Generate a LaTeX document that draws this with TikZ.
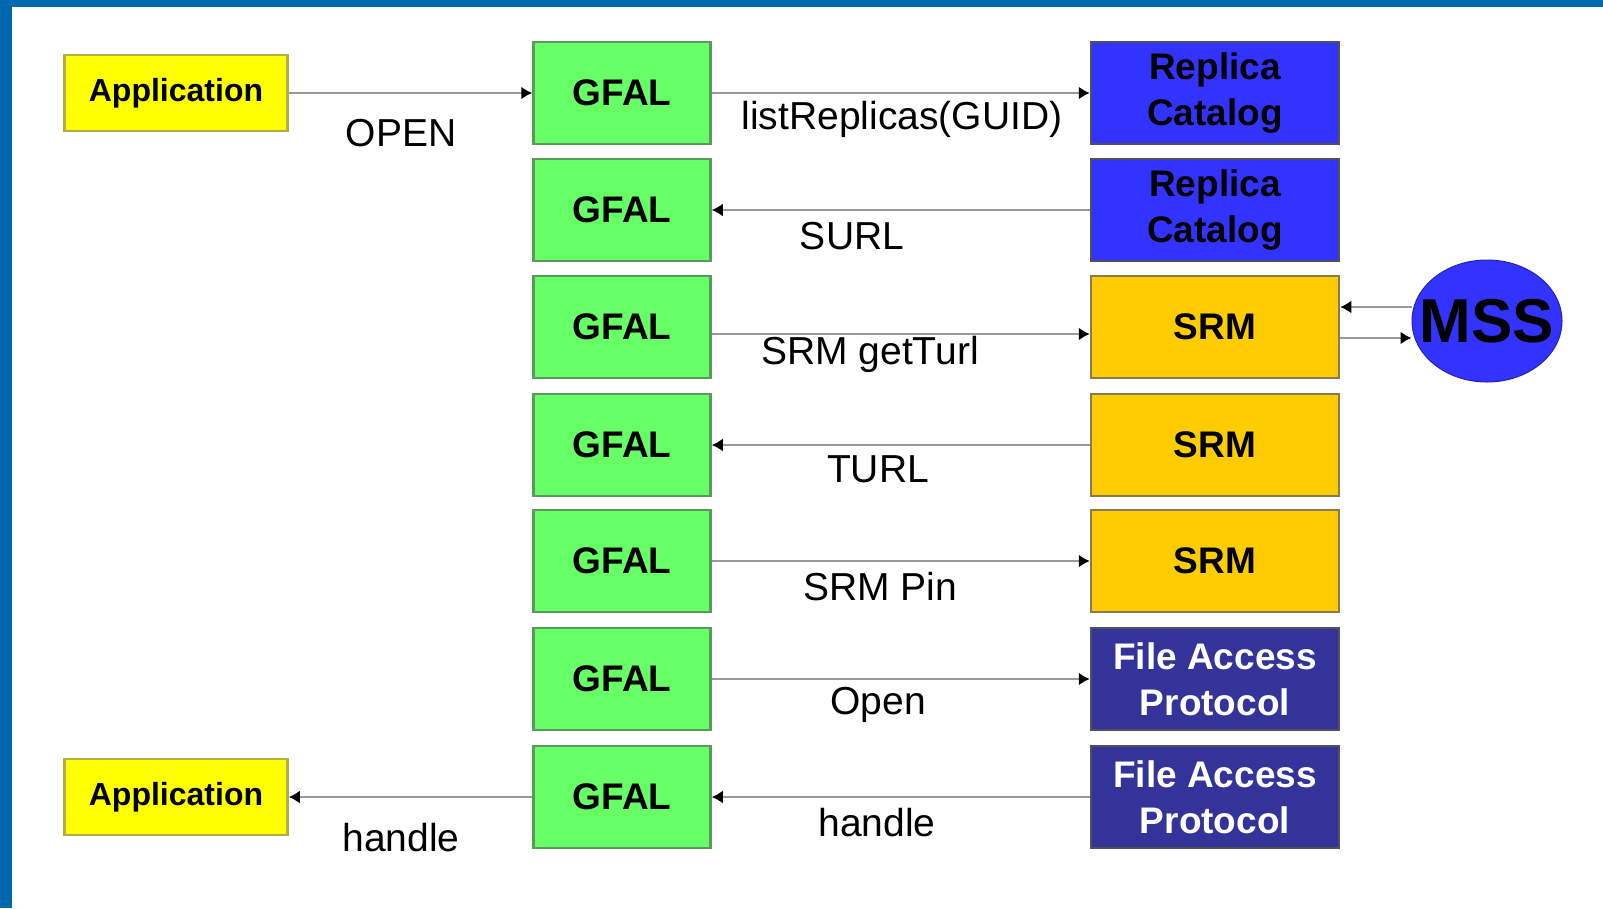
\documentclass[tikz,border=0pt]{standalone}
\usepackage{fontspec}
\setmainfont{Liberation Sans}
\usetikzlibrary{arrows.meta,shapes.geometric}
\definecolor{frameblue}{HTML}{0067B1}
\definecolor{appyellow}{HTML}{FFFF00}
\definecolor{appborder}{HTML}{B0B040}
\definecolor{gfalgreen}{HTML}{66FF66}
\definecolor{gfalborder}{HTML}{5A9A5A}
\definecolor{rcblue}{HTML}{3333FF}
\definecolor{srmorange}{HTML}{FFCC00}
\definecolor{srmborder}{HTML}{8A7A50}
\definecolor{fapblue}{HTML}{333399}
\definecolor{boxgray}{HTML}{505060}
\definecolor{linegray}{HTML}{999999}
\tikzset{
  box/.style={rectangle, inner sep=0pt, line width=2.5pt, align=center,
    font={\fontsize{37}{46}\selectfont\bfseries}},
  appbox/.style={box, fill=appyellow, draw=appborder, minimum width=223pt, minimum height=76pt,
    font={\fontsize{32}{38}\selectfont\bfseries}},
  gfalbox/.style={box, fill=gfalgreen, draw=gfalborder, minimum width=177pt, minimum height=102pt},
  rcbox/.style={box, fill=rcblue, draw=boxgray, minimum width=248pt, minimum height=102pt},
  srmbox/.style={box, fill=srmorange, draw=srmborder, minimum width=248pt, minimum height=102pt},
  fapbox/.style={box, fill=fapblue, draw=boxgray, text=white, minimum width=248pt, minimum height=102pt},
  conn/.style={draw=linegray, line width=2.8pt, -{Latex[black,length=11pt,width=13pt]}},
  lbl/.style={font={\fontsize{39}{44}\selectfont}, inner sep=0pt},
}
\begin{document}
\begin{tikzpicture}[x=1pt,y=-1pt]
\useasboundingbox (0,0) rectangle (1603,908);
\fill[white] (0,0) rectangle (1603,908);
\fill[frameblue] (0,0) rectangle (1603,7);
\fill[frameblue] (0,0) rectangle (12,908);

% rows: 93, 210, 327, 445, 561, 679, 797
\node[appbox] (app1) at (176,93) {Application};
\node[appbox] (app2) at (176,797) {Application};

\node[gfalbox] (g1) at (622,93) {GFAL};
\node[gfalbox] (g2) at (622,210) {GFAL};
\node[gfalbox] (g3) at (622,327) {GFAL};
\node[gfalbox] (g4) at (622,445) {GFAL};
\node[gfalbox] (g5) at (622,561) {GFAL};
\node[gfalbox] (g6) at (622,679) {GFAL};
\node[gfalbox] (g7) at (622,797) {GFAL};

\node[rcbox] (rc1) at (1215,93) {Replica\\Catalog};
\node[rcbox] (rc2) at (1215,210) {Replica\\Catalog};
\node[srmbox] (srm3) at (1215,327) {SRM};
\node[srmbox] (srm4) at (1215,445) {SRM};
\node[srmbox] (srm5) at (1215,561) {SRM};
\node[fapbox] (fap6) at (1215,679) {File Access\\Protocol};
\node[fapbox] (fap7) at (1215,797) {File Access\\Protocol};

\node[ellipse, fill=rcblue, draw=rcblue!70!black, line width=1pt, minimum width=150pt, minimum height=122pt,
  inner sep=0pt, font={\fontsize{62}{66}\selectfont\bfseries}] (mss) at (1487,321) {\makebox[0pt]{MSS}};

% connectors
\draw[conn] (app1.east) -- (g1.west);
\draw[conn] (g1.east) -- (rc1.west);
\draw[conn] (rc2.west) -- (g2.east);
\draw[conn] ([yshift=-7pt]g3.east) -- ([yshift=-7pt]srm3.west);
\draw[conn] ([yshift=14pt]mss.west) -- ([yshift=20pt]srm3.east);
\draw[conn] ([yshift=-11pt]srm3.east) -- ([yshift=-17pt]mss.west);
\draw[conn] (srm4.west) -- (g4.east);
\draw[conn] (g5.east) -- (srm5.west);
\draw[conn] (g6.east) -- (fap6.west);
\draw[conn] (fap7.west) -- (g7.east);
\draw[conn] (g7.west) -- (app2.east);

% labels
\node[lbl] (lopen) at (401,133) {OPEN};
\node[lbl] (llist) at (902,119) {listReplicas(GUID)};
\node[lbl] (lsurl) at (852,236) {SURL};
\node[lbl] (lgett) at (870,354) {SRM getTurl};
\node[lbl] (lturl) at (878,469) {TURL};
\node[lbl] (lpin) at (880,587) {SRM Pin};
\node[lbl] (lopen2) at (878,705) {Open};
\node[lbl] (lhand) at (877,823) {handle};
\node[lbl] (lhand2) at (401,838) {handle};
\end{tikzpicture}
\end{document}
